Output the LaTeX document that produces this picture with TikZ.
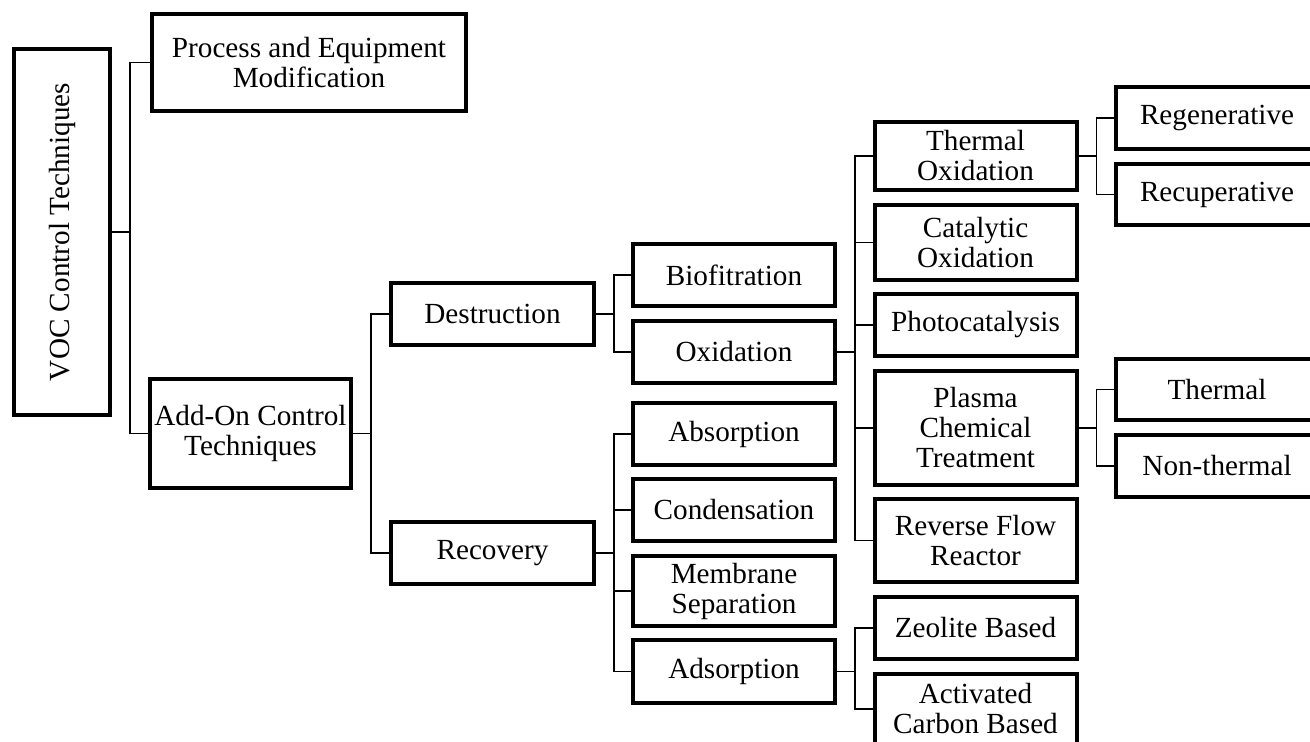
\documentclass[tikz,border=0pt]{standalone}
\usepackage{fontspec}
\setmainfont{Liberation Serif}
\usetikzlibrary{positioning}
\tikzset{
  box/.style={draw, line width=2pt, minimum width=101pt, minimum height=31pt,
    align=center, inner sep=1pt, font=\fontsize{14.6}{15}\selectfont},
  link/.style={line width=0.75pt},
}
\newcommand\branch[2]{\draw[link] (#1.east) -- ++(9pt,0) |- (#2.west);}

\begin{document}
\begin{tikzpicture}[x=0.5pt, y=-0.5pt]

  \useasboundingbox (0,0) rectangle (1310,742);

  % root and first level
  \node[box, rotate=90, minimum width=183pt, minimum height=48pt] (voc) at (62,232) {VOC Control Techniques};
  \node[box, minimum width=157pt, minimum height=48.5pt] (pem) at (309,62.5) {Process and Equipment\\Modification};
  \node[box, minimum width=100.5pt, minimum height=54.5pt] (addon) at (250.5,433.5) {Add-On Control\\Techniques};

  \node[box, minimum width=101.5pt] (destr) at (492.5,314) {Destruction};
  \node[box, minimum width=101.5pt] (recov) at (492.5,553) {Recovery};

  % second column
  \node[box] (bio) at (734,275) {Biofitration};
  \node[box] (oxid) at (734,352) {Oxidation};
  \node[box] (absorp) at (734,434) {Absorption};
  \node[box] (cond) at (734,510) {Condensation};
  \node[box, minimum height=35pt] (memb) at (734,591) {Membrane\\Separation};
  \node[box, minimum height=31.5pt] (adsorp) at (734,671.5) {Adsorption};

  % third column
  \node[box, minimum height=34pt] (thermox) at (975.5,156) {Thermal\\Oxidation};
  \node[box, minimum height=37.5pt] (catox) at (975.5,242.5) {Catalytic\\Oxidation};
  \node[box] (photo) at (975.5,325) {Photocatalysis};
  \node[box, minimum height=57pt] (plasma) at (975.5,428) {Plasma\\Chemical\\Treatment};
  \node[box, minimum height=41.5pt] (revflow) at (975.5,540.5) {Reverse Flow\\Reactor};
  \node[box] (zeol) at (975.5,628) {Zeolite Based};
  \node[box, minimum height=35pt] (actc) at (975.5,709) {Activated\\Carbon Based};

  % fourth column
  \node[box] (regen) at (1217,118) {Regenerative};
  \node[box, minimum height=30.5pt] (recup) at (1217,194.5) {Recuperative};
  \node[box, minimum height=30.5pt] (therm) at (1217,389.5) {Thermal};
  \node[box] (nontherm) at (1217,466) {Non-thermal};

  % connectors (the root is turned, so its right side is .south)
  \draw[link] (voc.south) -- ++(9pt,0) |- (pem.west);
  \draw[link] (voc.south) -- ++(9pt,0) |- (addon.west);
  \branch{addon}{destr}
  \branch{addon}{recov}
  \branch{destr}{bio}
  \branch{destr}{oxid}
  \foreach \c in {absorp,cond,memb,adsorp} {\branch{recov}{\c}}
  \foreach \c in {thermox,catox,photo,plasma,revflow} {\branch{oxid}{\c}}
  \branch{adsorp}{zeol}
  \branch{adsorp}{actc}
  \branch{thermox}{regen}
  \branch{thermox}{recup}
  \branch{plasma}{therm}
  \branch{plasma}{nontherm}
\end{tikzpicture}
\end{document}
